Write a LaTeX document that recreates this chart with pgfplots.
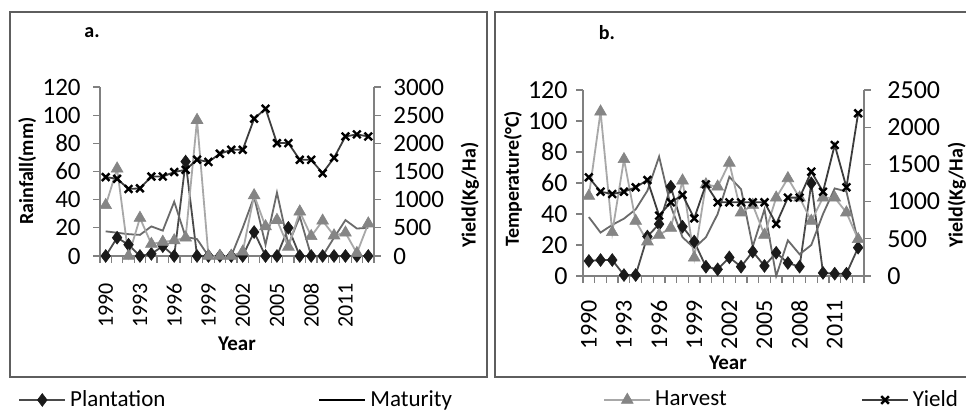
\documentclass[border=0pt]{standalone}
\usepackage{fontspec}
\setmainfont{Carlito}
\usepackage{pgfplots}
\pgfplotsset{compat=1.18}

\definecolor{axgray}{HTML}{808080}
\definecolor{framegray}{HTML}{5E5E5E}
\definecolor{plantline}{HTML}{4A4A4A}
\definecolor{plantmark}{HTML}{1A1A1A}
\definecolor{matline}{HTML}{6A6A6A}
\definecolor{harvline}{HTML}{A8A8A8}
\definecolor{harvmark}{HTML}{858585}
\definecolor{yieldline}{HTML}{3C3C3C}

\pgfplotsset{
  base/.style={scale only axis, xmin=1989.5, xmax=2013.5, ymin=0,
    /pgf/number format/assume math mode=true, /pgf/number format/1000 sep={},
    scaled y ticks=false, axis line style={draw=axgray, line width=0.75pt},
    tick style={draw=axgray, line width=0.65pt}, tick align=outside,
    major tick length=3.5pt, clip=false,
    legend image code/.code={\draw[mark repeat=2,mark phase=2] plot coordinates {(0pt,0pt) (11.5pt,0pt) (23pt,0pt)};},
  },
  leftax/.style={base, axis x line*=bottom, axis y line*=left, ymax=120,
    ytick={0,20,...,120},
    xtick={1989.5,1990.5,1991.5,1992.5,1993.5,1994.5,1995.5,1996.5,1997.5,1998.5,1999.5,2000.5,2001.5,2002.5,2003.5,2004.5,2005.5,2006.5,2007.5,2008.5,2009.5,2010.5,2011.5,2012.5,2013.5},
    xticklabels={},
    extra x ticks={1990,1993,1996,1999,2002,2005,2008,2011},
    extra x tick style={major tick length=0pt, tick style={draw=none}},
    ylabel style={font=\bfseries\fontsize{10}{12}\selectfont},
    xlabel style={font=\bfseries\fontsize{10.5}{12}\selectfont},
  },
  rightax/.style={base, axis y line*=right, axis x line=none,
    ylabel style={font=\bfseries\fontsize{10}{12}\selectfont},
  },
  plant/.style={draw=plantline, line width=0.9pt, mark=diamond*, mark size=3.2pt,
    mark options={draw=plantmark, fill=plantmark, line width=0.3pt}},
  mat/.style={draw=matline, line width=0.9pt, no marks},
  harv/.style={draw=harvline, line width=0.9pt, mark=triangle*, mark size=3.4pt,
    mark options={draw=harvmark, fill=harvmark, line width=0.3pt}},
  yld/.style={draw=yieldline, line width=0.9pt, mark=x, mark size=2.7pt,
    mark options={draw=black, line width=1.2pt}},
}

\begin{document}
\begin{tikzpicture}
\useasboundingbox (0,0) rectangle (483pt,205pt);
\clip (0,0) rectangle (483pt,205pt);
\fill[white] (0,0) rectangle (483pt,205pt);
% frames
\draw[framegray, line width=1pt] (5pt,16.5pt) rectangle (243.5pt,199pt);
\draw[framegray, line width=1pt] (247.5pt,16.5pt) rectangle (495pt,199pt);
\node[font=\bfseries\fontsize{10}{12}\selectfont] at (46pt,188.5pt) {a.};
\node[font=\bfseries\fontsize{10}{12}\selectfont] at (303.5pt,188.5pt) {b.};

% ---------- panel a, left axis
\begin{axis}[leftax, at={(50pt,77pt)}, anchor=south west, width=137pt, height=84.5pt,
  yticklabel style={font=\fontsize{12.5}{13}\selectfont, inner sep=0pt, xshift=-6pt},
  xticklabel style={font=\fontsize{11}{12}\selectfont, inner sep=0pt, yshift=-13.5pt, rotate=90, anchor=east},
  ylabel={Rainfall(mm)}, ylabel style={at={(axis description cs:-0.266,0.503)}, anchor=center},
  xlabel={Year}, xlabel style={at={(axis description cs:0.5,-0.52)}, anchor=center}]
\addplot[plant] coordinates {(1990,0) (1991,13) (1992,8) (1993,0) (1994,1.5) (1995,7) (1996,0) (1997,67) (1998,0) (1999,0) (2000,0) (2001,0) (2002,0) (2003,17) (2004,0) (2005,0) (2006,20) (2007,0) (2008,0) (2009,0) (2010,0) (2011,0) (2012,0) (2013,0)};
\addplot[mat] coordinates {(1990,17.5) (1991,16.5) (1992,15.5) (1993,15) (1994,21) (1995,18) (1996,38.5) (1997,13.5) (1998,12) (1999,0) (2000,0) (2001,0) (2002,20) (2003,42) (2004,8) (2005,45) (2006,8) (2007,28) (2008,0) (2009,0) (2010,13) (2011,25.5) (2012,19.5) (2013,20)};
\addplot[harv] coordinates {(1990,36) (1991,62) (1992,0) (1993,27) (1994,8.5) (1995,10) (1996,11) (1997,13) (1998,96.5) (1999,0) (2000,0) (2001,0) (2002,3) (2003,43) (2004,21) (2005,25.5) (2006,6.5) (2007,31.5) (2008,14) (2009,25) (2010,14.5) (2011,16.5) (2012,2) (2013,23)};
\end{axis}
% ---------- panel a, right axis
\begin{axis}[rightax, at={(50pt,77pt)}, anchor=south west, width=137pt, height=84.5pt,
  ymax=3000, ytick={0,500,...,3000},
  yticklabel style={font=\fontsize{12.5}{13}\selectfont, inner sep=0pt, xshift=6pt},
  ylabel={Yield(Kg/Ha)}, ylabel style={at={(axis description cs:1.350,0.361)}, anchor=center},
  legend style={at={(axis description cs:-0.2993,-0.852)}, anchor=west, draw=none, fill=none,
    inner sep=0pt, font=\fontsize{11.5}{13}\selectfont, nodes={inner sep=0pt},
    /tikz/every odd column/.append style={column sep=2pt},
    /tikz/every even column/.append style={column sep=0pt}},
  legend columns=4, legend cell align=left]
\addlegendimage{plant}
\addlegendentry[text width=124pt]{Plantation}
\addlegendimage{draw=black, line width=1.1pt, no marks}
\addlegendentry[text width=116.5pt]{Maturity}
\addlegendimage{harv}
\addlegendentry[text width=103pt]{Harvest}
\addplot[yld] coordinates {(1990,1400) (1991,1370) (1992,1190) (1993,1200) (1994,1410) (1995,1410) (1996,1490) (1997,1530) (1998,1710) (1999,1670) (2000,1815) (2001,1885) (2002,1885) (2003,2437) (2004,2615) (2005,2004) (2006,2004) (2007,1707) (2008,1707) (2009,1470) (2010,1743) (2011,2122) (2012,2158) (2013,2122)};
\addlegendentry{Yield}
\end{axis}

% ---------- panel b, left axis
\begin{axis}[leftax, at={(291.5pt,67pt)}, anchor=south west, width=140.5pt, height=93pt,
  yticklabel style={font=\fontsize{13}{14}\selectfont, inner sep=0pt, xshift=-4pt},
  xticklabel style={font=\fontsize{12}{12}\selectfont, inner sep=0pt, yshift=-12pt, rotate=90, anchor=east},
  ylabel={Temperature(°C)}, ylabel style={at={(axis description cs:-0.249,0.522)}, anchor=center},
  xlabel={Year}, xlabel style={at={(axis description cs:0.516,-0.468)}, anchor=center}]
\addplot[plant] coordinates {(1990,9.7) (1991,10.3) (1992,10.3) (1993,0.6) (1994,0.6) (1995,25.5) (1996,33.5) (1997,57.6) (1998,31.8) (1999,22.2) (2000,6) (2001,4.3) (2002,12) (2003,6) (2004,15.7) (2005,6.5) (2006,15) (2007,8.4) (2008,6) (2009,59.8) (2010,2) (2011,1.5) (2012,1.5) (2013,18.3)};
\addplot[mat] coordinates {(1990,38) (1991,28) (1992,33) (1993,37) (1994,43) (1995,55) (1996,77) (1997,45) (1998,25) (1999,18) (2000,25) (2001,40) (2002,64) (2003,56) (2004,19) (2005,43) (2006,0) (2007,23) (2008,14) (2009,20) (2010,40) (2011,56.5) (2012,54.5) (2013,22)};
\addplot[harv] coordinates {(1990,51.6) (1991,106) (1992,28.2) (1993,75.3) (1994,35.5) (1995,22.2) (1996,26.5) (1997,31) (1998,61.5) (1999,11.8) (2000,59) (2001,57.6) (2002,73) (2003,40.9) (2004,45.8) (2005,26.5) (2006,50.5) (2007,63) (2008,50.5) (2009,35.5) (2010,50.5) (2011,50.5) (2012,40.9) (2013,23.7)};
\end{axis}
% ---------- panel b, right axis
\begin{axis}[rightax, at={(291.5pt,67pt)}, anchor=south west, width=140.5pt, height=93pt,
  ymax=2500, ytick={0,500,...,2500},
  yticklabel style={font=\fontsize{13}{14}\selectfont, inner sep=0pt, xshift=8pt},
  ylabel={Yield(Kg/Ha)}, ylabel style={at={(axis description cs:1.331,0.435)}, anchor=center}]
\addplot[yld] coordinates {(1990,1326) (1991,1133) (1992,1102) (1993,1133) (1994,1192) (1995,1290) (1996,811) (1997,990) (1998,1089) (1999,775) (2000,1232) (2001,990) (2002,990) (2003,990) (2004,990) (2005,990) (2006,699) (2007,1053) (2008,1053) (2009,1402) (2010,1133) (2011,1761) (2012,1192) (2013,2187)};
\end{axis}
\end{tikzpicture}
\end{document}
